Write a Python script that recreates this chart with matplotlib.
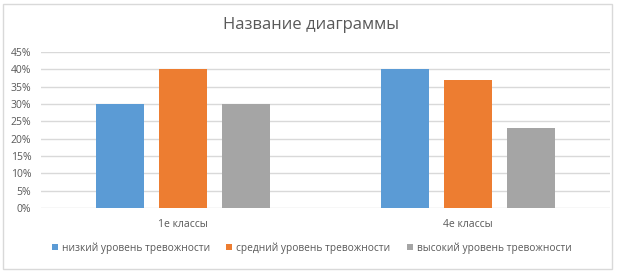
import numpy as np
import matplotlib.pyplot as plt
from matplotlib.patches import Rectangle
from matplotlib.ticker import PercentFormatter

plt.rcParams['font.family'] = ['Open Sans', 'DejaVu Sans']

categories = ["1е классы", "4е классы"]
series = ["низкий уровень тревожности", "средний уровень тревожности", "высокий уровень тревожности"]
low = [30, 40]
mid = [40, 37]
high = [30, 23]
colors = ["#5b9bd5", "#ed7d31", "#a5a5a5"]

text_col = "#595959"

fig = plt.figure(figsize=(6.23, 2.72), dpi=100)
ax = fig.add_axes([41 / 623, 1 - 208 / 272, 569 / 623, 156 / 272])

# рамка вокруг диаграммы
fig.patches.append(Rectangle((3 / 623, 3 / 272), 609 / 623, 265 / 272, transform=fig.transFigure,
                             fill=False, edgecolor="#d9d9d9", linewidth=1))

x = np.arange(len(categories))
w = 0.169
off = 0.221
for i, (vals, name) in enumerate(zip([low, mid, high], series)):
    ax.bar(x + (i - 1) * off, vals, w, color=colors[i], label=name, zorder=3)

ax.set_xlim(-0.5, 1.5)
ax.set_ylim(0, 45)
ax.set_yticks(np.arange(0, 46, 5))
ax.yaxis.set_major_formatter(PercentFormatter(decimals=0))
ax.set_xticks(x)
ax.set_xticklabels(categories)
ax.grid(axis="y", color="#d9d9d9", linewidth=1, zorder=0)
for s in ax.spines.values():
    s.set_visible(False)
ax.tick_params(length=0, colors=text_col, labelsize=7.5)
ax.tick_params(axis="x", pad=8)
ax.tick_params(axis="y", pad=7)

fig.text(0.5, 1 - 25 / 272, "Название диаграммы", ha="center", va="center", fontsize=12, color=text_col)

fig.legend(loc="center", bbox_to_anchor=(0.5, 1 - 248 / 272), ncol=3, frameon=False,
           fontsize=7.3, labelcolor=text_col, handlelength=0.6, handleheight=0.6,
           handletextpad=0.4, columnspacing=1.6)

plt.savefig("out.png", dpi=100)
